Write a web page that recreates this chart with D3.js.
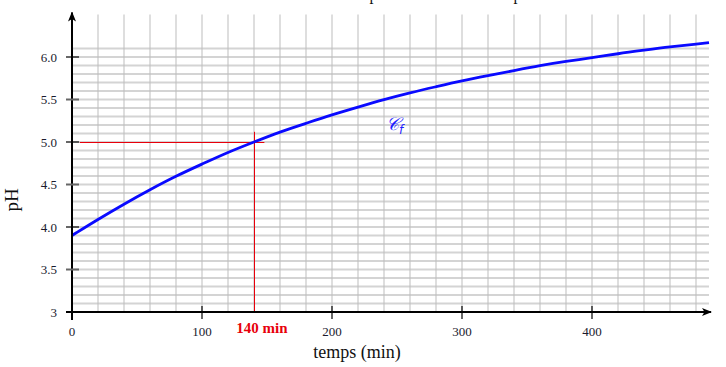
<!DOCTYPE html>
<html>
<head>
<meta charset="utf-8">
<script src="https://cdn.jsdelivr.net/npm/d3@7"></script>
<style>
  html, body { margin: 0; padding: 0; background: #fff; }
  svg { display: block; }
</style>
</head>
<body>
<div id="chart"></div>
<script>
// ── Data ──
const timeMin = [0, 20, 40, 60, 80, 100, 120, 140, 160, 180, 200, 220, 240,
  260, 280, 300, 320, 340, 360, 380, 400, 420, 440, 460, 480, 490];
const phValues = [3.90, 4.09, 4.27, 4.44, 4.60, 4.74, 4.88, 5.00, 5.12, 5.22, 5.32, 5.41, 5.50,
  5.58, 5.65, 5.72, 5.78, 5.84, 5.90, 5.95, 5.99, 6.04, 6.08, 6.12, 6.15, 6.17];
const xTicks = [0, 100, 200, 300, 400];
const yTicks = [3, 3.5, 4, 4.5, 5, 5.5, 6];
const yTickLabels = ['3', '3.5', '4.0', '4.5', '5.0', '5.5', '6.0'];
const markTime = 140;
const markPh = 5.0;

const W = 726, H = 367;
const FONT = '"Liberation Serif", "DejaVu Serif", serif';

const svg = d3.select('#chart').append('svg')
  .attr('width', W)
  .attr('height', H);

// scales: 0 min at x=72, 400 min at x=592 ; pH 3 at y=312, pH 6 at y=57
const x = d3.scaleLinear().domain([0, 400]).range([72, 592]);
const y = d3.scaleLinear().domain([3, 6]).range([312, 57]);
const xMax = 490, yMax = 6.5;

// ── Grid ──
const grid = svg.append('g');
grid.selectAll('line.h')
  .data(d3.range(31).map(i => 3 + (i + 1) * 0.1).filter(v => v <= yMax + 1e-6))
  .join('line')
  .attr('class', 'h')
  .attr('x1', x(0)).attr('x2', x(xMax))
  .attr('y1', d => y(d)).attr('y2', d => y(d))
  .attr('stroke', '#d4d4d4')
  .attr('stroke-width', 2);

grid.selectAll('line.v')
  .data(d3.range(1, 25).map(i => i * 20))
  .join('line')
  .attr('class', 'v')
  .attr('x1', d => x(d)).attr('x2', d => x(d))
  .attr('y1', y(yMax)).attr('y2', y(3))
  .attr('stroke', '#bdbdbd')
  .attr('stroke-width', 1);

// ── Reading lines at 140 min ──
svg.append('line')
  .attr('x1', x(6)).attr('x2', x(148))
  .attr('y1', y(markPh) + 0.5).attr('y2', y(markPh) + 0.5)
  .attr('stroke', '#e8000b').attr('stroke-width', 1);
svg.append('line')
  .attr('x1', x(markTime) + 0.5).attr('x2', x(markTime) + 0.5)
  .attr('y1', y(3)).attr('y2', y(5.12))
  .attr('stroke', '#e8000b').attr('stroke-width', 1);

// ── Curve ──
const line = d3.line()
  .x((d, i) => x(timeMin[i]))
  .y(d => y(d))
  .curve(d3.curveBasis);

svg.append('path')
  .datum(phValues)
  .attr('d', line)
  .attr('fill', 'none')
  .attr('stroke', '#0a0aff')
  .attr('stroke-width', 2.8);

// ── Axes with arrows ──
const defs = svg.append('defs');
defs.append('marker')
  .attr('id', 'arrow')
  .attr('viewBox', '0 -5 10 10')
  .attr('refX', 9).attr('refY', 0)
  .attr('markerWidth', 5).attr('markerHeight', 5)
  .attr('markerUnits', 'strokeWidth')
  .attr('orient', 'auto')
  .append('path')
  .attr('d', 'M0,-4L10,0L0,4L2.5,0Z')
  .attr('fill', '#000');

svg.append('line')
  .attr('x1', 66).attr('x2', x(xMax) + 2)
  .attr('y1', y(3)).attr('y2', y(3))
  .attr('stroke', '#000').attr('stroke-width', 2)
  .attr('marker-end', 'url(#arrow)');
svg.append('line')
  .attr('x1', x(0)).attr('x2', x(0))
  .attr('y1', 320).attr('y2', y(yMax) - 2)
  .attr('stroke', '#000').attr('stroke-width', 2)
  .attr('marker-end', 'url(#arrow)');

// y ticks
const yAxis = svg.append('g');
yAxis.selectAll('line')
  .data(yTicks)
  .join('line')
  .attr('x1', x(0) - 6).attr('x2', x(0) + 7)
  .attr('y1', d => y(d)).attr('y2', d => y(d))
  .attr('stroke', d => Number.isInteger(d) ? '#000' : '#666')
  .attr('stroke-width', d => Number.isInteger(d) ? 1.2 : 2);
yAxis.selectAll('text')
  .data(yTicks)
  .join('text')
  .attr('x', 57)
  .attr('y', d => y(d) + 4.5)
  .attr('text-anchor', 'end')
  .attr('font-family', FONT)
  .attr('font-size', 13)
  .attr('fill', '#1a1a2e')
  .text((d, i) => yTickLabels[i]);

// x ticks
const xAxis = svg.append('g');
xAxis.selectAll('line')
  .data(xTicks.filter(d => d > 0))
  .join('line')
  .attr('x1', d => x(d)).attr('x2', d => x(d))
  .attr('y1', y(3) - 6).attr('y2', y(3) + 7)
  .attr('stroke', '#000').attr('stroke-width', 1.2);
xAxis.selectAll('text')
  .data(xTicks)
  .join('text')
  .attr('x', d => x(d))
  .attr('y', 336)
  .attr('text-anchor', 'middle')
  .attr('font-family', FONT)
  .attr('font-size', 13)
  .attr('fill', '#1a1a2e')
  .text(d => d);

// marked time label
svg.append('text')
  .attr('x', x(markTime) + 8)
  .attr('y', 333)
  .attr('text-anchor', 'middle')
  .attr('font-family', FONT)
  .attr('font-size', 15)
  .attr('font-weight', 'bold')
  .attr('fill', '#e8000b')
  .text(markTime + ' min');

// axis titles
svg.append('text')
  .attr('x', 357)
  .attr('y', 358)
  .attr('text-anchor', 'middle')
  .attr('font-family', FONT)
  .attr('font-size', 18)
  .attr('fill', '#111')
  .text('temps (min)');

svg.append('text')
  .attr('transform', 'translate(18,200) rotate(-90)')
  .attr('text-anchor', 'middle')
  .attr('font-family', FONT)
  .attr('font-size', 19)
  .attr('fill', '#111')
  .text('pH');

// curve name
const lbl = svg.append('text')
  .attr('x', 386)
  .attr('y', 130)
  .attr('font-family', '"DejaVu Sans", "Noto Sans", serif')
  .attr('font-size', 18)
  .attr('fill', '#1f1fff');
lbl.append('tspan').attr('font-style', 'italic').text('𝒞');
lbl.append('tspan').attr('font-size', 12).attr('dy', 4).attr('font-style', 'italic').text('f');

// title, mostly cropped at the top of the picture
svg.append('text')
  .attr('x', 405)
  .attr('y', 0)
  .attr('text-anchor', 'middle')
  .attr('font-family', FONT)
  .attr('font-size', 16)
  .attr('fill', '#111')
  .text('Évolution du pH en fonction du temps');
</script>
</body>
</html>
